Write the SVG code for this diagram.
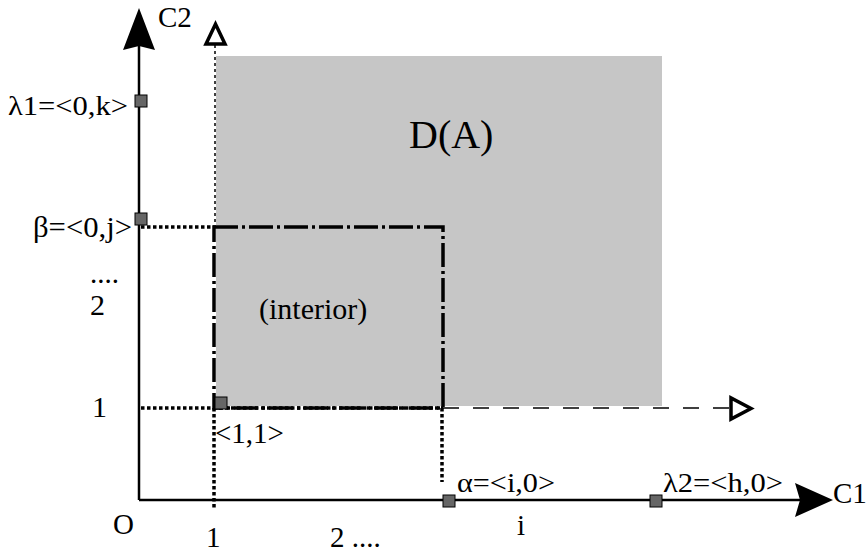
<svg xmlns="http://www.w3.org/2000/svg" width="867" height="555" viewBox="0 0 867 555">
<style>
text{font-family:"Liberation Serif","Times New Roman",serif;fill:#000}
.axis{stroke:#000;stroke-width:2.5;fill:none}
.dot{stroke:#000;stroke-width:3.5;stroke-dasharray:3.5 2.5;fill:none}
.thin{stroke:#000;stroke-width:1.5;stroke-dasharray:3 3;fill:none}
.dash{stroke:#000;stroke-width:1.5;stroke-dasharray:16 14;fill:none}
.dd{stroke:#000;stroke-width:3.5;stroke-dasharray:24 4 3 4;fill:none}
.pt{fill:#666;stroke:#000;stroke-width:1}
.open{fill:#fff;stroke:#000;stroke-width:3.5;stroke-linejoin:miter}
</style>
<rect x="0" y="0" width="867" height="555" fill="#fff"/>
<g id="region-DA">
<rect x="216" y="56" width="446" height="350" fill="#c6c6c6"/>
<text x="409" y="148" font-size="40">D(A)</text>
</g>
<g id="interior">
<text x="259" y="319" font-size="30">(interior)</text>
</g>
<g id="connectors">
<line class="axis" x1="139" y1="500" x2="139" y2="45"/>
<path d="M139,8 L155,50 L139,46 L123,50 Z" fill="#000"/>
<line class="axis" x1="139" y1="500" x2="800" y2="500"/>
<path d="M833,500 L795,483 L800,500 L795,517 Z" fill="#000"/>
<line class="thin" x1="215" y1="45" x2="215" y2="227"/>
<path class="open" d="M206,44 L225,44 L215.5,24 Z"/>
<line class="dash" x1="443" y1="408" x2="731" y2="408"/>
<path class="open" d="M731,398 L731,419 L751,408.5 Z"/>
<line class="dot" x1="141" y1="227" x2="214" y2="227"/>
<line class="dot" x1="141" y1="408" x2="443" y2="408"/>
<line class="dot" x1="214" y1="408" x2="214" y2="510"/>
<line class="dot" x1="442" y1="408" x2="442" y2="482"/>
<rect class="dd" x="214" y="227" width="229" height="181"/>
</g>
<g id="points">
<rect class="pt" x="135" y="95" width="12" height="12"/>
<rect class="pt" x="135" y="213" width="12" height="12"/>
<rect class="pt" x="215" y="397" width="12" height="12"/>
<rect class="pt" x="443" y="495" width="12" height="12"/>
<rect class="pt" x="650" y="495" width="12" height="12"/>
</g>
<g id="labels">
<text x="158" y="27" font-size="29">C2</text>
<text x="833" y="503" font-size="29">C1</text>
<text x="8" y="115" font-size="27" textLength="120" lengthAdjust="spacingAndGlyphs">λ1=&lt;0,k&gt;</text>
<text x="33" y="237" font-size="29" textLength="99" lengthAdjust="spacingAndGlyphs">β=&lt;0,j&gt;</text>
<text x="90" y="283" font-size="29">....</text>
<text x="90" y="315" font-size="30">2</text>
<text x="92" y="417" font-size="30">1</text>
<text x="215" y="443" font-size="29">&lt;1,1&gt;</text>
<text x="113" y="534" font-size="29">O</text>
<text x="206" y="547" font-size="29">1</text>
<text x="330" y="547" font-size="29">2 ....</text>
<text x="457" y="492" font-size="28" textLength="98" lengthAdjust="spacingAndGlyphs">α=&lt;i,0&gt;</text>
<text x="517" y="535" font-size="29">i</text>
<text x="663" y="492" font-size="28" textLength="120" lengthAdjust="spacingAndGlyphs">λ2=&lt;h,0&gt;</text>
</g>
</svg>
